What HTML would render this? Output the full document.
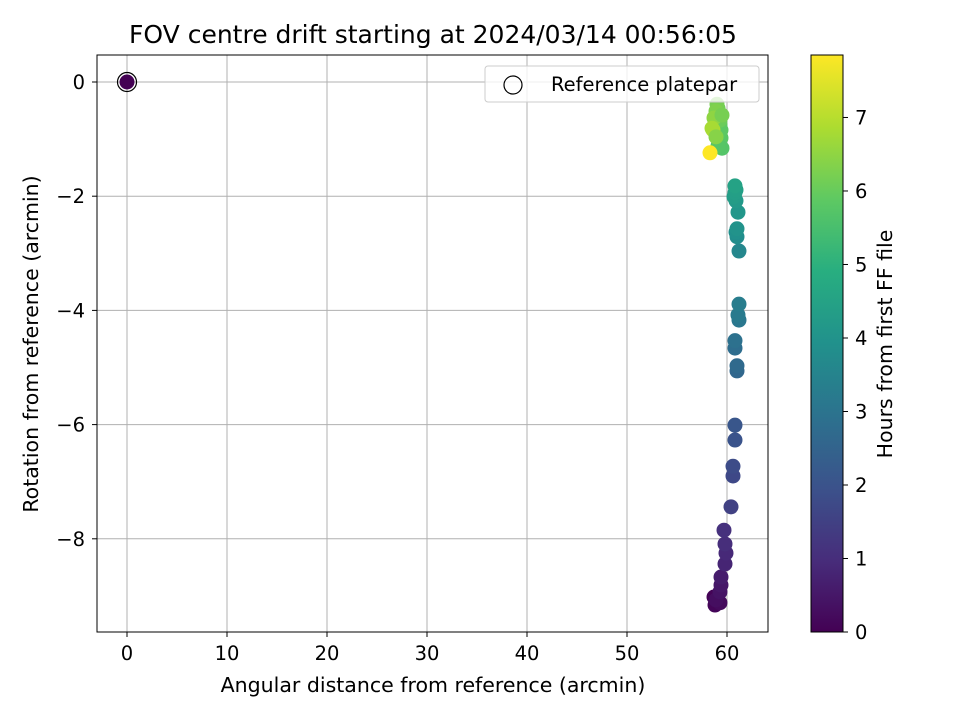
<!DOCTYPE html>
<html><head><meta charset="utf-8"><style>
body{margin:0;background:#fff;font-family:"DejaVu Sans","Liberation Sans",sans-serif;}
svg text{font-family:"DejaVu Sans","Liberation Sans",sans-serif;}
</style></head><body>
<svg id="chart" width="960" height="720" xmlns="http://www.w3.org/2000/svg">
<defs><linearGradient id="vir" x1="0" y1="1" x2="0" y2="0">
<stop offset="0" stop-color="#440154"/><stop offset="0.125" stop-color="#472d7b"/><stop offset="0.25" stop-color="#3b528b"/><stop offset="0.375" stop-color="#2c728e"/><stop offset="0.5" stop-color="#21918c"/><stop offset="0.625" stop-color="#28ae80"/><stop offset="0.75" stop-color="#5ec962"/><stop offset="0.875" stop-color="#addc30"/><stop offset="1" stop-color="#fde725"/></linearGradient></defs>
<rect width="960" height="720" fill="#fff"/>
<text x="433" y="43" font-size="25" text-anchor="middle">FOV centre drift starting at 2024/03/14 00:56:05</text>
<g id="grid"></g><g id="ticks"></g><g id="marks"></g>
<rect x="97" y="55" width="671" height="577" fill="none" stroke="#000" stroke-width="1"/>
<text x="433" y="692" font-size="20.5" text-anchor="middle">Angular distance from reference (arcmin)</text>
<text transform="translate(38,344) rotate(-90)" font-size="20.5" text-anchor="middle">Rotation from reference (arcmin)</text>
<g>
<rect x="485" y="66" width="274" height="36" rx="3" fill="#fff" fill-opacity="0.8" stroke="#ccc"/>
<circle cx="513" cy="85" r="9" fill="none" stroke="#000" stroke-width="1.2"/>
<text x="551" y="91" font-size="19.5">Reference platepar</text>
</g>
<g>
<rect x="811" y="55" width="32" height="577" fill="url(#vir)" stroke="#000"/>
<g id="cbticks"></g>
<text transform="translate(892,344) rotate(-90)" font-size="20.5" text-anchor="middle">Hours from first FF file</text>
</g>
</svg>
<script>
const xTicks=[0,10,20,30,40,50,60];
const yTicks=[0,-2,-4,-6,-8];
const cTicks=[0,1,2,3,4,5,6,7];
const xs=[58.7,58.8,59.3,58.9,59.3,59.4,59.4,59.8,59.9,59.8,59.7,60.4,60.6,60.6,60.8,60.8,61.0,61.0,60.8,60.8,61.2,61.1,61.2,61.2,61.0,60.9,61.0,61.1,60.9,60.7,60.8,60.9,60.8,59.2,59.1,59.0,59.3,59.4,59.5,59.4,59.1,59.3,58.9,58.7,58.6,58.5,58.3,58.9,59.5];
const ys=[-9.02,-9.16,-9.12,-9.07,-8.93,-8.81,-8.67,-8.44,-8.25,-8.09,-7.85,-7.44,-6.90,-6.73,-6.27,-6.01,-5.06,-4.97,-4.66,-4.53,-4.17,-4.08,-3.89,-2.96,-2.71,-2.63,-2.57,-2.28,-2.08,-2.01,-1.94,-1.89,-1.82,-0.56,-0.46,-0.39,-0.75,-0.98,-1.16,-0.84,-1.12,-0.67,-0.51,-0.63,-0.84,-0.81,-1.24,-0.96,-0.58];
const hours=[0.05,0.1,0.2,0.3,0.4,0.5,0.6,0.8,0.9,1.0,1.1,1.5,1.7,1.8,2.0,2.1,2.6,2.7,2.8,2.9,3.1,3.2,3.3,3.6,3.8,3.9,4.0,4.1,4.2,4.3,4.35,4.4,4.5,6.0,6.1,6.2,5.9,5.8,5.7,5.85,5.75,6.05,6.3,6.5,6.9,6.8,7.85,6.4,6.2];
const NS="http://www.w3.org/2000/svg";
const X=v=>127+(v-0)*10, Y=v=>82-v*57.1, C=v=>632-v*(577/7.85);
const vir=[[68,1,84],[71,45,123],[59,82,139],[44,114,142],[33,145,140],[40,174,128],[94,201,98],[173,220,48],[253,231,37]];
function col(h){let t=Math.max(0,Math.min(1,h/7.85))*8,i=Math.min(7,Math.floor(t)),f=t-i;const a=vir[i],b=vir[i+1];return`rgb(${a.map((v,k)=>Math.round(v+(b[k]-v)*f)).join(',')})`;}
function mk(tag,attrs,parent,txt){const e=document.createElementNS(NS,tag);for(const k in attrs)e.setAttribute(k,attrs[k]);if(txt!==undefined)e.textContent=txt;document.getElementById(parent).appendChild(e);return e;}
xTicks.forEach(t=>{const g=mk('line',{x1:X(t),x2:X(t),y1:55,y2:632,stroke:'#b0b0b0','stroke-width':1},'grid');


const tk=mk('line',{x1:X(t),x2:X(t),y1:632,y2:637,stroke:'#000'},'ticks');


const l=mk('text',{x:X(t),y:660,'font-size':19.5,'text-anchor':'middle'},'ticks',String(t));

});
yTicks.forEach(t=>{const g=mk('line',{x1:97,x2:768,y1:Y(t),y2:Y(t),stroke:'#b0b0b0','stroke-width':1},'grid');


const tk=mk('line',{x1:92,x2:97,y1:Y(t),y2:Y(t),stroke:'#000'},'ticks');


const l=mk('text',{x:85,y:Y(t)+7,'font-size':19.5,'text-anchor':'end'},'ticks',t===0?'0':'\u2212'+Math.abs(t));

});
cTicks.forEach(t=>{const tk=mk('line',{x1:843,x2:848,y1:C(t),y2:C(t),stroke:'#000'},'cbticks');


const l=mk('text',{x:855,y:C(t)+7,'font-size':19.5},'cbticks',String(t));

});
xs.forEach((x,i)=>{const c=mk('circle',{cx:X(x),cy:Y(ys[i]),r:7.5,fill:col(hours[i])},'marks');

});
const r0=mk('circle',{cx:X(0),cy:Y(0),r:7.5,fill:col(0)},'marks');


const r1=mk('circle',{cx:X(0),cy:Y(0),r:9.5,fill:'none',stroke:'#000','stroke-width':1.2},'marks');


</script>
</body></html>
